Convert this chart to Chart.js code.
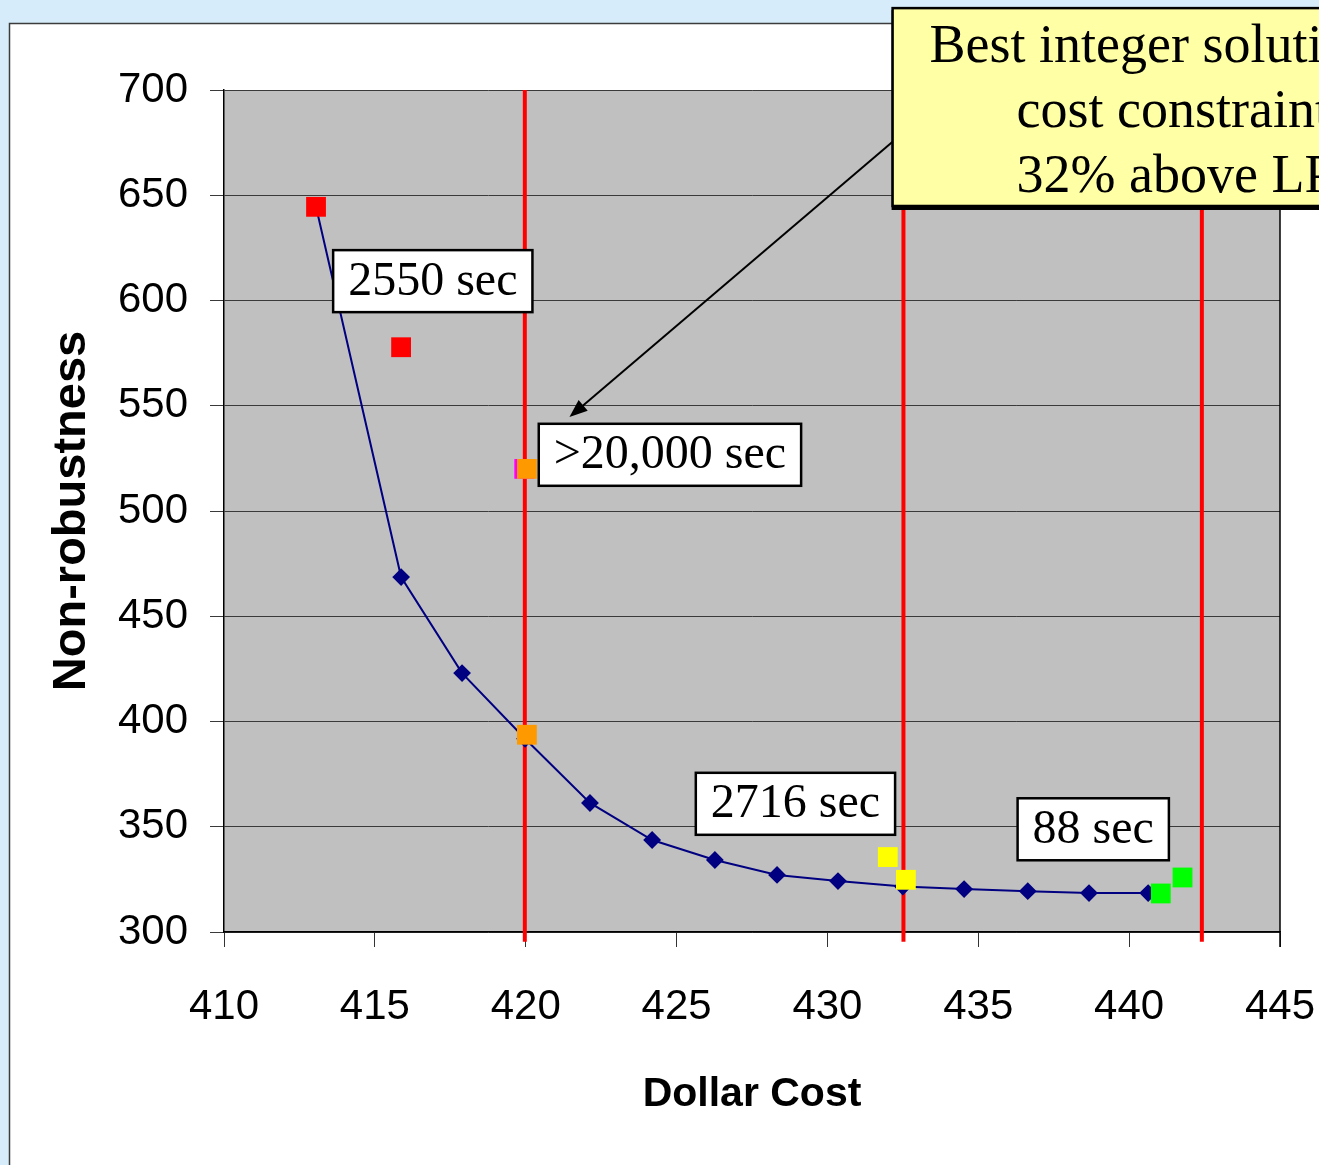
<!DOCTYPE html>
<html>
<head>
<meta charset="utf-8">
<script src="https://cdn.jsdelivr.net/npm/chart.js@4/dist/chart.umd.min.js"></script>
<style>
  html, body { margin: 0; padding: 0; background: #d6ecfb; }
  #wrap { width: 1319px; height: 1165px; position: relative; }
</style>
</head>
<body>
<div id="wrap"><canvas id="c"></canvas></div>
<script>
// Pareto frontier of the LP relaxation: dollar cost vs. non-robustness
const frontierCost = [413.05, 415.87, 417.89, 419.98, 422.13, 424.19, 426.27, 428.33, 430.35, 432.5, 434.53, 436.64, 438.67, 440.63];
const frontierNonRobust = [644.5, 468.6, 423.0, 391.8, 361.3, 343.7, 334.2, 327.1, 324.2, 321.6, 320.4, 319.4, 318.5, 318.5];

// Integer solutions found under each cost constraint
const redCost = [413.05, 415.87];
const redNonRobust = [644.5, 577.8];
const magentaCost = [419.95];
const magentaNonRobust = [520.0];
const orangeCost = [420.04, 420.04];
const orangeNonRobust = [520.0, 393.7];
const yellowCost = [432.0, 432.6];
const yellowNonRobust = [335.6, 324.8];
const greenCost = [441.05, 441.77];
const greenNonRobust = [318.3, 325.9];

// Cost constraints (vertical limits)
const constraintCost = [419.97, 432.52, 442.41];
const constraintSpan = [295.4, 700];

// Solve-time labels, centred at (cost, non-robustness)
const timeLabels = ['2550 sec', '>20,000 sec', '2716 sec', '88 sec'];
const timeLabelCost = [416.92, 424.78, 428.94, 438.81];
const timeLabelNonRobust = [609.2, 526.7, 360.9, 348.8];

// Callout
const calloutLines = ['Best integer solution', 'cost constraint', '32% above LP'];
const calloutCorner = [432.16, 738.9];   // top-left (cost, non-robustness)
const calloutBottom = 644.9;
const arrowFrom = [432.16, 675.4];
const arrowTo = [421.45, 544.6];

const xTicks = { min: 410, max: 445, step: 5 };
const yTicks = { min: 300, max: 700, step: 50 };

const pts = (xs, ys) => xs.map((x, i) => ({ x, y: ys[i] }));

const hasNarrow = (() => {
  const ctx = document.createElement('canvas').getContext('2d');
  const s = 'mmmmmmmmmmlli0123456789WWW';
  ctx.font = '40px monospace';
  const a = ctx.measureText(s).width;
  ctx.font = '40px "Liberation Sans Narrow", monospace';
  return ctx.measureText(s).width !== a;
})();
const tickFont = hasNarrow
  ? { family: '"Liberation Sans Narrow", "Liberation Sans", Arial, sans-serif', size: 49 }
  : { family: '"Liberation Sans", Arial, sans-serif', size: 42 };
const xTickPad = Math.round(1006.7 - 947 - tickFont.size * 0.6);

const squareStyle = (color) => ({
  type: 'scatter', showLine: false, pointStyle: 'rect', pointRadius: 14, pointHoverRadius: 14,
  backgroundColor: color, borderColor: color, borderWidth: 0
});

const datasets = [
  Object.assign({ label: 'red', data: pts(redCost, redNonRobust) }, squareStyle('#ff0000')),
  Object.assign({ label: 'orange', data: pts(orangeCost, orangeNonRobust) }, squareStyle('#ff9900')),
  Object.assign({ label: 'magenta', data: pts(magentaCost, magentaNonRobust) }, squareStyle('#ff00ff')),
  Object.assign({ label: 'yellow', data: pts(yellowCost, yellowNonRobust) }, squareStyle('#ffff00')),
  Object.assign({ label: 'green', data: pts(greenCost, greenNonRobust) }, squareStyle('#00ff00')),
  {
    label: 'frontier', type: 'scatter', showLine: true, data: pts(frontierCost, frontierNonRobust),
    borderColor: '#000080', backgroundColor: '#000080', borderWidth: 2,
    pointStyle: 'rectRot', pointRadius: 7.5, pointHoverRadius: 7.5, tension: 0
  },
  ...constraintCost.map((c) => ({
    label: 'limit', type: 'scatter', showLine: true, clip: false,
    data: constraintSpan.map((y) => ({ x: c, y })),
    borderColor: '#ff0000', borderWidth: 4, pointRadius: 0, pointHoverRadius: 0
  }))
];

const backdrop = {
  id: 'backdrop',
  beforeDraw(chart) {
    const { ctx, chartArea: a, width, height } = chart;
    ctx.save();
    ctx.fillStyle = '#d6ecfb';
    ctx.fillRect(0, 0, width, height);
    ctx.fillStyle = '#ffffff';
    ctx.fillRect(10, 24, width, height);
    ctx.strokeStyle = '#3c3c3c';
    ctx.lineWidth = 1.5;
    ctx.beginPath();
    ctx.moveTo(9.5, height); ctx.lineTo(9.5, 23.5); ctx.lineTo(width, 23.5);
    ctx.stroke();
    ctx.fillStyle = '#c0c0c0';
    ctx.fillRect(a.left, a.top, a.right - a.left, a.bottom - a.top);
    ctx.restore();
  },
  beforeDatasetsDraw(chart) {
    const { ctx, chartArea: a } = chart;
    ctx.save();
    ctx.strokeStyle = '#000000';
    ctx.lineWidth = 1.5;
    ctx.beginPath();
    ctx.moveTo(a.right, a.top); ctx.lineTo(a.right, a.bottom + 15);
    ctx.stroke();
    ctx.restore();
  }
};

const annotations = {
  id: 'annotations',
  afterDatasetsDraw(chart) {
    const { ctx } = chart;
    const sx = chart.scales.x, sy = chart.scales.y;
    const px = (v) => sx.getPixelForValue(v), py = (v) => sy.getPixelForValue(v);
    ctx.save();
    const serif = '"Liberation Serif", "Times New Roman", serif';

    // solve-time boxes
    ctx.font = '48px ' + serif;
    ctx.textAlign = 'center';
    ctx.textBaseline = 'middle';
    timeLabels.forEach((t, i) => {
      const cx = px(timeLabelCost[i]), cy = py(timeLabelNonRobust[i]);
      const w = ctx.measureText(t).width + 30, h = 62;
      ctx.fillStyle = '#ffffff';
      ctx.fillRect(cx - w / 2, cy - h / 2, w, h);
      ctx.strokeStyle = '#000000';
      ctx.lineWidth = 2.5;
      ctx.strokeRect(cx - w / 2, cy - h / 2, w, h);
      ctx.fillStyle = '#000000';
      ctx.fillText(t, cx, cy + 1);
    });

    // arrow to the >20,000 sec solution
    const x0 = px(arrowFrom[0]), y0 = py(arrowFrom[1]);
    const x1 = px(arrowTo[0]), y1 = py(arrowTo[1]);
    const ang = Math.atan2(y1 - y0, x1 - x0);
    const head = 18, half = 7;
    ctx.strokeStyle = '#000000';
    ctx.lineWidth = 2;
    ctx.beginPath();
    ctx.moveTo(x0, y0);
    ctx.lineTo(x1 - Math.cos(ang) * head * 0.8, y1 - Math.sin(ang) * head * 0.8);
    ctx.stroke();
    ctx.fillStyle = '#000000';
    ctx.beginPath();
    ctx.moveTo(x1, y1);
    ctx.lineTo(x1 - Math.cos(ang) * head + Math.sin(ang) * half, y1 - Math.sin(ang) * head - Math.cos(ang) * half);
    ctx.lineTo(x1 - Math.cos(ang) * head - Math.sin(ang) * half, y1 - Math.sin(ang) * head + Math.cos(ang) * half);
    ctx.closePath();
    ctx.fill();

    // callout box
    const bl = px(calloutCorner[0]), bt = py(calloutCorner[1]), bb = py(calloutBottom);
    const bw = chart.width + 20 - bl;
    ctx.fillStyle = '#000000';
    ctx.fillRect(bl - 1, bt + 2, bw, bb - bt + 2);
    ctx.fillStyle = '#ffffa6';
    ctx.fillRect(bl, bt, bw, bb - bt);
    ctx.strokeStyle = '#000000';
    ctx.lineWidth = 2.5;
    ctx.strokeRect(bl, bt, bw, bb - bt);
    ctx.fillStyle = '#000000';
    ctx.font = '54px ' + serif;
    ctx.textAlign = 'left';
    ctx.textBaseline = 'alphabetic';
    const offs = [37, 124, 124];
    calloutLines.forEach((line, i) => {
      ctx.fillText(line, bl + offs[i], bt + 54 + i * 65);
    });
    ctx.restore();
  }
};

new Chart(document.getElementById('c'), {
  type: 'scatter',
  data: { datasets },
  plugins: [backdrop, annotations],
  options: {
    responsive: true,
    maintainAspectRatio: false,
    animation: false,
    events: [],
    layout: { padding: { top: 90, right: 39, left: 0, bottom: 0 } },
    plugins: { legend: { display: false }, tooltip: { enabled: false } },
    scales: {
      x: {
        type: 'linear', min: xTicks.min, max: xTicks.max,
        afterFit(scale) { scale.height = 233; scale.paddingLeft = 0; scale.paddingRight = 0; },
        ticks: { stepSize: xTicks.step, color: '#000000', font: tickFont, padding: xTickPad, maxRotation: 0 },
        grid: { drawOnChartArea: false, drawTicks: true, tickLength: 15, color: '#333333', lineWidth: 1 },
        border: { display: true, color: '#000000', width: 1.5 },
        title: {
          display: true, text: 'Dollar Cost', color: '#000000',
          font: { family: '"Liberation Sans", Arial, sans-serif', size: 41, weight: 'bold' },
          padding: { top: 0, bottom: 46 }
        }
      },
      y: {
        type: 'linear', min: yTicks.min, max: yTicks.max,
        afterFit(scale) { scale.width = 224; scale.paddingTop = 0; scale.paddingBottom = 0; },
        ticks: { stepSize: yTicks.step, color: '#000000', font: tickFont, padding: 22 },
        grid: { drawOnChartArea: true, drawTicks: true, tickLength: 14, color: '#3a3a3a', lineWidth: 1 },
        border: { display: true, color: '#000000', width: 1.5 },
        title: {
          display: true, text: 'Non-robustness', color: '#000000',
          font: { family: '"Liberation Sans", Arial, sans-serif', size: 47, weight: 'bold' },
          padding: { top: 44, bottom: 0 }
        }
      }
    }
  }
});
</script>
</body>
</html>
